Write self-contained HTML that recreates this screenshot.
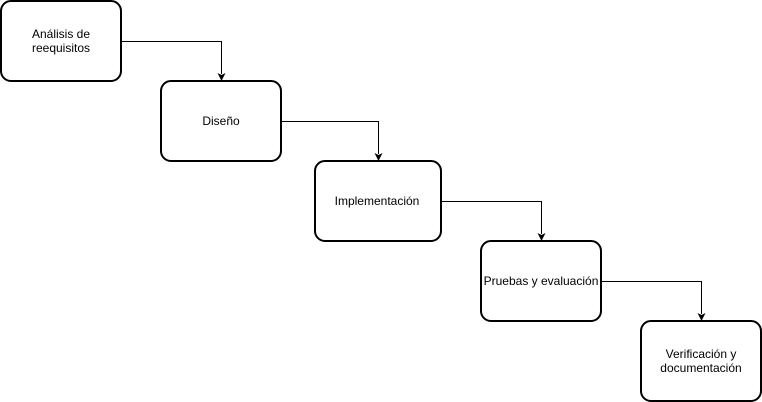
<!DOCTYPE html>
<html><head><meta charset="utf-8"><style>
body{margin:0;background:#fff;width:762px;height:402px;overflow:hidden}
svg{display:block}
text{font-family:"Liberation Sans",Arial,sans-serif;font-size:12px;fill:#000}
</style></head><body>
<svg width="762" height="402" viewBox="0 0 762 402">
<defs><marker id="a" markerWidth="8" markerHeight="8" refX="4" refY="7" orient="auto" markerUnits="userSpaceOnUse"><path d="M0,0 L4,8 L8,0 L4,2 Z" transform="rotate(-90 4 4)"/></marker></defs>
<g fill="#fff" stroke="#000" stroke-width="2">
<rect x="1" y="1" width="120" height="80" rx="10"/>
<rect x="161" y="81" width="120" height="80" rx="10"/>
<rect x="315" y="161" width="126" height="80" rx="10"/>
<rect x="481" y="241" width="120" height="80" rx="10"/>
<rect x="641" y="321" width="120" height="80" rx="10"/>
</g>
<g fill="none" stroke="#000" stroke-width="1">
<path d="M121.5 41.5H221.5V74"/>
<path d="M281.5 121.5H378.5V154"/>
<path d="M441.5 201.5H541.5V234"/>
<path d="M601.5 281.5H701.5V314"/>
</g>
<g fill="#000">
<path d="M217.5 73 L221.5 81 L225.5 73 L221.5 75 Z"/>
<path d="M374.5 153 L378.5 161 L382.5 153 L378.5 155 Z"/>
<path d="M537.5 233 L541.5 241 L545.5 233 L541.5 235 Z"/>
<path d="M697.5 313 L701.5 321 L705.5 313 L701.5 315 Z"/>
</g>
<g text-anchor="middle">
<text x="61" y="38">Análisis de</text>
<text x="61" y="52">reequisitos</text>
<text x="221" y="125">Diseño</text>
<text x="377" y="205">Implementación</text>
<text x="541" y="285">Pruebas y evaluación</text>
<text x="701" y="358">Verificación y</text>
<text x="701" y="372">documentación</text>
</g>
</svg>
</body></html>
